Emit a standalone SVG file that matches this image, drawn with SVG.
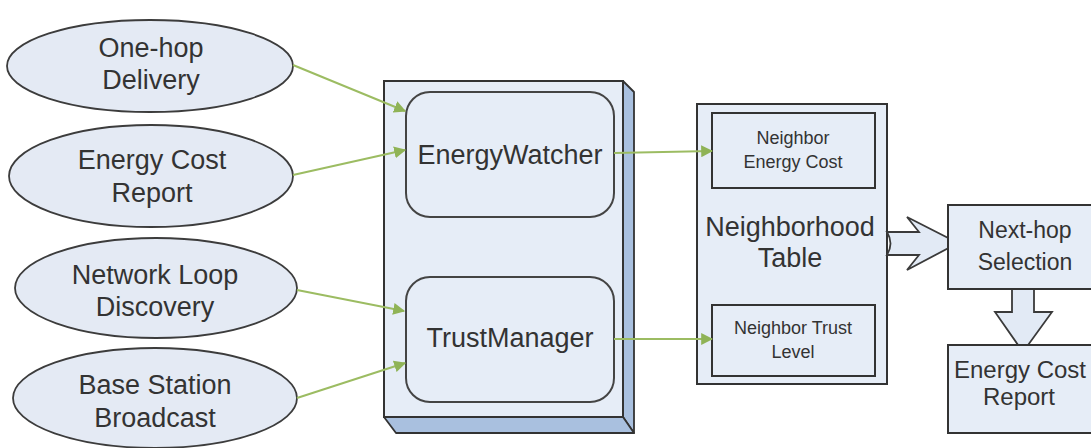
<svg xmlns="http://www.w3.org/2000/svg" width="1091" height="448" viewBox="0 0 1091 448">
<defs>
<style>
.ell{fill:#e4eaf4;stroke:#3c3c3c;stroke-width:1.8}
.box{fill:#e6edf7;stroke:#333;stroke-width:2}
.side{fill:#a9c0df;stroke:#333;stroke-width:1.8;stroke-linejoin:round}
.t{font-family:"Liberation Sans",Arial,sans-serif;fill:#333;text-anchor:middle}
.big{font-size:27px}
.mid{font-size:23px}
.sm{font-size:18px}
.g{stroke:#9cbc62;stroke-width:2;fill:none;marker-end:url(#ah)}
.hollow{fill:#e2eaf5;stroke:#3a3a3a;stroke-width:1.8;stroke-linejoin:miter}
</style>
<marker id="ah" viewBox="0 0 10 10" refX="9" refY="5" markerWidth="6" markerHeight="6" orient="auto" markerUnits="strokeWidth">
<path d="M0,0 L10,5 L0,10 z" fill="#8fb356"/>
</marker>
</defs>
<rect width="1091" height="448" fill="#fff"/>

<g id="one-hop">
<ellipse class="ell" cx="150" cy="66" rx="143" ry="46"/>
<text class="t big" x="151" y="57">One-hop</text>
<text class="t big" x="151" y="89">Delivery</text>
</g>
<g id="energy-cost-report-in">
<ellipse class="ell" cx="151" cy="176" rx="142" ry="51"/>
<text class="t big" x="152" y="169">Energy Cost</text>
<text class="t big" x="152" y="202">Report</text>
</g>
<g id="network-loop">
<ellipse class="ell" cx="156" cy="288" rx="141" ry="50"/>
<text class="t big" x="155" y="284">Network Loop</text>
<text class="t big" x="155" y="316">Discovery</text>
</g>
<g id="base-station">
<ellipse class="ell" cx="155" cy="398" rx="142" ry="50"/>
<text class="t big" x="155" y="394">Base Station</text>
<text class="t big" x="155" y="427">Broadcast</text>
</g>

<g id="module">
<polygon class="side" points="623,81 634,92 634,433 623,417"/>
<polygon class="side" points="384,417 396,433 634,433 623,417"/>
<rect class="box" x="384" y="81" width="239" height="336"/>
</g>
<g id="energywatcher">
<rect class="box" x="406" y="92" width="208" height="125" rx="24" ry="24" stroke-width="1.6" style="stroke:#444"/>
<text class="t big" x="510" y="164">EnergyWatcher</text>
</g>
<g id="trustmanager">
<rect class="box" x="406" y="277" width="208" height="125" rx="24" ry="24" stroke-width="1.6" style="stroke:#444"/>
<text class="t big" x="510" y="347">TrustManager</text>
</g>

<g id="neighborhood-table">
<rect class="box" x="697" y="104" width="190" height="280"/>
<text class="t big" x="790" y="236">Neighborhood</text>
<text class="t big" x="790" y="267">Table</text>
</g>
<g id="neighbor-energy-cost">
<rect class="box" x="712" y="113" width="163" height="75"/>
<text class="t sm" x="793" y="144">Neighbor</text>
<text class="t sm" x="793" y="168">Energy Cost</text>
</g>
<g id="neighbor-trust-level">
<rect class="box" x="712" y="305" width="163" height="71"/>
<text class="t sm" x="793" y="334">Neighbor Trust</text>
<text class="t sm" x="793" y="358">Level</text>
</g>

<g id="connectors">
<line class="g" x1="293" y1="65" x2="405" y2="111"/>
<line class="g" x1="293" y1="175" x2="405" y2="150"/>
<line class="g" x1="297" y1="290" x2="404" y2="311"/>
<line class="g" x1="297" y1="398" x2="405" y2="363"/>
<line class="g" x1="614" y1="153" x2="712" y2="151"/>
<line class="g" x1="614" y1="339" x2="712" y2="339"/>
<path class="hollow" d="M887,232 L919,232 L907,217 L958,243 L907,270 L919,255 L887,255 Q894,243.5 887,232 Z"/>
<path class="hollow" d="M1012,289 L1012,312 L995,312 L1023,352 L1052,312 L1034,312 L1034,289 Z"/>
</g>

<g id="next-hop">
<rect class="box" x="948" y="205" width="160" height="84"/>
<text class="t mid" x="1025" y="238">Next-hop</text>
<text class="t mid" x="1025" y="270">Selection</text>
</g>
<g id="energy-cost-report-out">
<rect class="box" x="948" y="345" width="160" height="88"/>
<text class="t mid" x="1020" y="378" style="font-size:24px">Energy Cost</text>
<text class="t mid" x="1019" y="405" style="font-size:24px">Report</text>
</g>
</svg>
